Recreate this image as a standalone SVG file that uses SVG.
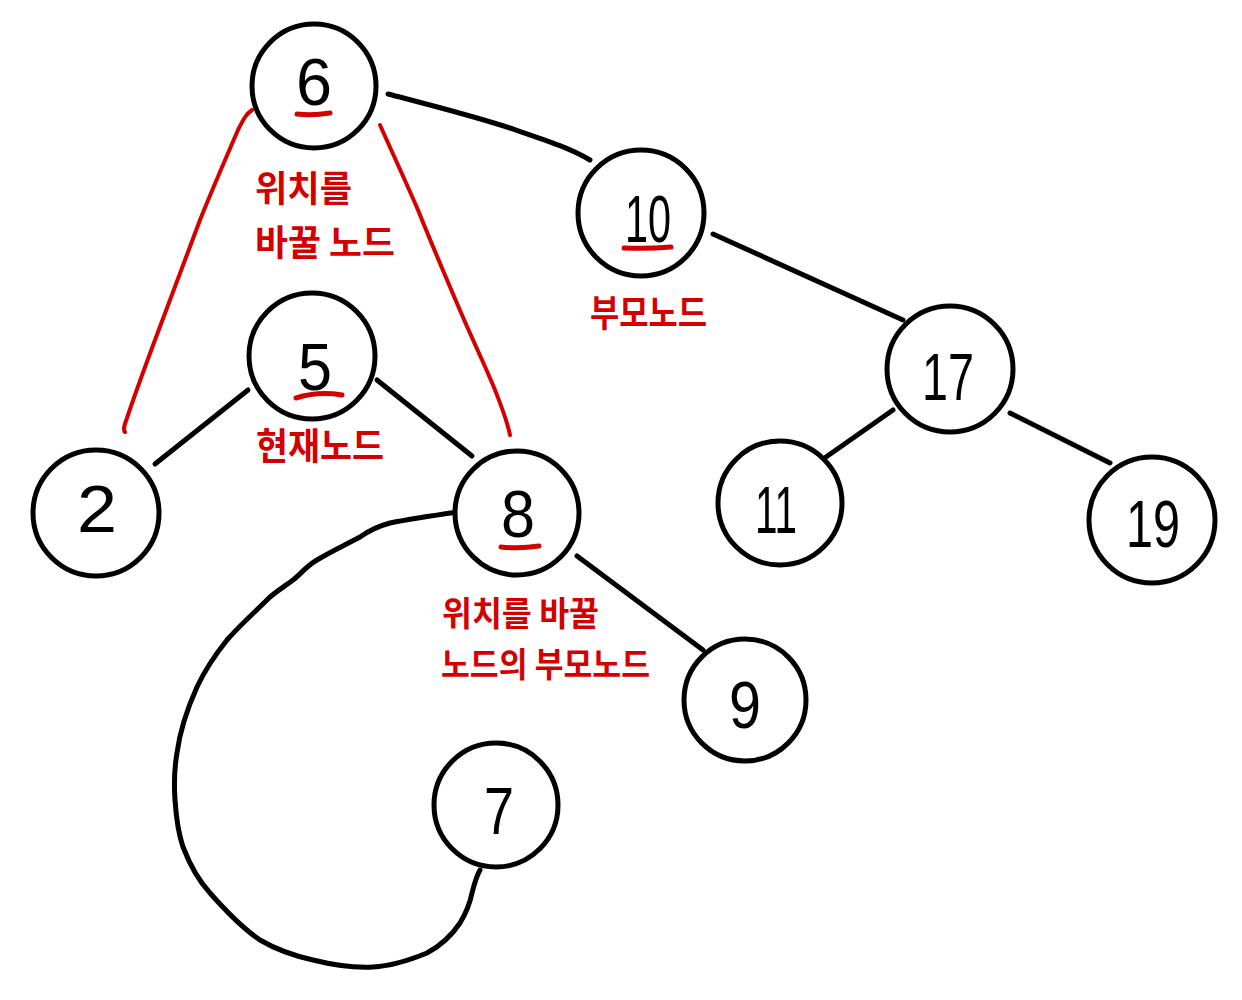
<svg xmlns="http://www.w3.org/2000/svg" width="1242" height="1000" viewBox="0 0 1242 1000">
<style>
.node circle{fill:#fff;stroke:#000;stroke-width:5}
.num{font-family:"Liberation Sans","DejaVu Sans",sans-serif;font-size:66px;fill:#000;text-anchor:middle}
.ul{stroke:#d40000;stroke-width:5;stroke-linecap:round;fill:none}
.lbl{font-family:"Noto Sans CJK KR",sans-serif;font-weight:bold;fill:#d40000}
.edge{stroke:#000;stroke-width:5;stroke-linecap:round;fill:none}
.red{stroke:#d40000;stroke-width:4;stroke-linecap:round;fill:none}
</style>
<rect width="1242" height="1000" fill="#fff"/>
<g id="connectors">
<path class="edge" d="M388,94 C430,105 470,115 510,128 C545,140 570,148 590,160"/>
<line class="edge" x1="713" y1="234" x2="903" y2="320"/>
<line class="edge" x1="893" y1="410" x2="826" y2="457"/>
<line class="edge" x1="1010" y1="413" x2="1110" y2="463"/>
<line class="edge" x1="248" y1="390" x2="155" y2="464"/>
<line class="edge" x1="377" y1="380" x2="472" y2="456"/>
<line class="edge" x1="577" y1="556" x2="703" y2="650"/>
<path class="edge" d="M458,512 C430,516 405,520 390,523 C375,527 367,532 360,537 C345,545 330,552 317,560 C305,567 300,575 293,580 C285,586 277,591 270,597 C255,612 240,625 227,640 C215,655 205,670 197,687 C188,707 180,730 177,753 C174,770 174,785 175,800 C176,815 178,832 183,847 C190,865 198,880 210,893 C225,910 242,928 260,940 C277,950 295,956 313,960 C333,965 353,968 373,967 C393,966 410,960 427,953 C440,946 452,935 460,923 C466,913 470,903 472,893 C474,885 476,877 480,870"/>
<path class="red" d="M252,110 C246,114 243,120 238,130 C225,160 212,190 200,220 C185,260 170,300 155,340 C142,375 133,400 127,418 C124,426 123,430 125,432"/>
<path class="red" d="M380,125 C392,152 405,180 418,210 C432,245 447,280 462,315 C475,345 487,370 495,390 C502,408 507,420 510,435"/>
</g>
<g id="node-6" class="node"><circle cx="314" cy="86" r="62"/><text class="num" x="314" y="105" textLength="36" lengthAdjust="spacingAndGlyphs">6</text><path class="ul" d="M297,114 Q312,116 330,113"/></g>
<g id="node-10" class="node"><circle cx="641" cy="213" r="63"/><text class="num" x="648" y="242" textLength="46" lengthAdjust="spacingAndGlyphs">10</text><path class="ul" d="M624,248 Q648,249 671,247"/></g>
<g id="node-5" class="node"><circle cx="312" cy="356" r="63"/><text class="num" x="315" y="390" textLength="34" lengthAdjust="spacingAndGlyphs">5</text><path class="ul" d="M296,398 Q318,391 342,395"/></g>
<g id="node-2" class="node"><circle cx="96" cy="513" r="63"/><text class="num" x="97" y="532" textLength="40" lengthAdjust="spacingAndGlyphs">2</text></g>
<g id="node-8" class="node"><circle cx="517" cy="513" r="62"/><text class="num" x="518" y="537" textLength="34" lengthAdjust="spacingAndGlyphs">8</text><path class="ul" d="M501,547 Q520,549 539,546"/></g>
<g id="node-17" class="node"><circle cx="950" cy="369" r="63"/><text class="num" x="948" y="400" textLength="52" lengthAdjust="spacingAndGlyphs">17</text></g>
<g id="node-11" class="node"><circle cx="780" cy="503" r="62"/><text class="num" x="776" y="533" textLength="42" lengthAdjust="spacingAndGlyphs">11</text></g>
<g id="node-19" class="node"><circle cx="1152" cy="520" r="63"/><text class="num" x="1153" y="547" textLength="54" lengthAdjust="spacingAndGlyphs">19</text></g>
<g id="node-9" class="node"><circle cx="745" cy="700" r="61"/><text class="num" x="745" y="728" textLength="32" lengthAdjust="spacingAndGlyphs">9</text></g>
<g id="node-7" class="node"><circle cx="496" cy="805" r="62"/><text class="num" x="499" y="834" textLength="30" lengthAdjust="spacingAndGlyphs">7</text></g>
<g id="labels">
<text class="lbl" x="255" y="202" font-size="36" textLength="97" lengthAdjust="spacingAndGlyphs">위치를</text>
<text class="lbl" x="255" y="256" font-size="36" textLength="140" lengthAdjust="spacingAndGlyphs">바꿀 노드</text>
<text class="lbl" x="590" y="327" font-size="37" textLength="117" lengthAdjust="spacingAndGlyphs">부모노드</text>
<text class="lbl" x="256" y="460" font-size="37" textLength="128" lengthAdjust="spacingAndGlyphs">현재노드</text>
<text class="lbl" x="442" y="626" font-size="34" textLength="157" lengthAdjust="spacingAndGlyphs">위치를 바꿀</text>
<text class="lbl" x="441" y="677" font-size="34" textLength="209" lengthAdjust="spacingAndGlyphs">노드의 부모노드</text>
</g>
</svg>
